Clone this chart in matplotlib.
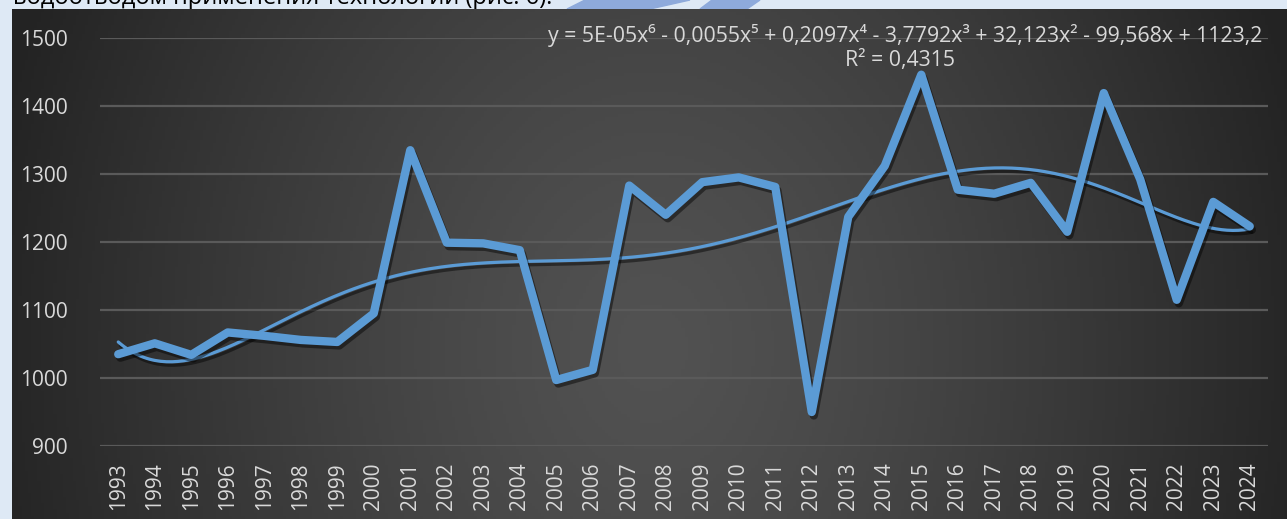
import numpy as np
import matplotlib.pyplot as plt
import matplotlib.patheffects as pe
from matplotlib.patches import Polygon

# data
years = [str(y) for y in range(1993, 2025)]
values = [1035, 1051, 1034, 1067, 1062, 1056, 1053, 1095, 1335, 1199,
          1198, 1188, 997, 1012, 1283, 1240, 1288, 1295, 1281, 950,
          1237, 1312, 1446, 1277, 1271, 1287, 1215, 1419, 1292, 1115,
          1259, 1223]
yticks = [900, 1000, 1100, 1200, 1300, 1400, 1500]
equation = "y = 5E-05x\u2076 - 0,0055x\u2075 + 0,2097x\u2074 - 3,7792x\u00b3 + 32,123x\u00b2 - 99,568x + 1123,2"
r2_text = "R\u00b2 = 0,4315"
caption = "водоотводом применения технологий (рис. 6)."

W, H = 1287, 519
blue = '#5b9bd5'
txt = '#d9d9d9'
fonts = ['Open Sans', 'DejaVu Sans']
plt.rcParams['font.family'] = fonts

fig = plt.figure(figsize=(W / 100, H / 100), dpi=100)
fig.patch.set_facecolor('#dee9f5')

# page text and shape peeking above the chart
fig.text(13 / W, 1 - 4 / H, caption, fontsize=17, color='black',
         va='baseline', ha='left', zorder=-2)
shape_color = '#8eaadb'
fig.patches.append(Polygon([(567 / W, 1 - 9 / H), (585 / W, 1.0), (690 / W, 1.0), (650 / W, 1 - 9 / H)],
                           closed=True, transform=fig.transFigure, color=shape_color, zorder=-3))
fig.patches.append(Polygon([(700 / W, 1 - 9 / H), (712 / W, 1.0), (760 / W, 1.0), (747 / W, 1 - 9 / H)],
                           closed=True, transform=fig.transFigure, color=shape_color, zorder=-3))

# dark gradient chart area
bg = fig.add_axes([12 / W, 0, 1 - 12 / W, 1 - 9 / H], zorder=0)
gx, gy = np.meshgrid(np.linspace(0, 1275, 400), np.linspace(0, 510, 160))
d = np.sqrt(((gx - 640) / 680) ** 2 + ((gy - 340) / 850) ** 2)
d = np.clip(d, 0, 1) ** 1.3
c_in, c_out = 0x52, 0x23
g = (c_in + (c_out - c_in) * d) / 255
bg.imshow(np.dstack([g, g, g]), aspect='auto', extent=[0, 1, 0, 1])
bg.set_axis_off()

ax = fig.add_axes([100 / W, 73 / H, 1168 / W, 408 / H], zorder=1)
ax.set_facecolor('none')

x = np.arange(len(years))
shadow = [pe.SimpleLineShadow(offset=(1.5, -2.5), shadow_color='black', alpha=0.45), pe.Normal()]
ax.plot(x, values, color=blue, lw=6, solid_joinstyle='round', solid_capstyle='round',
        path_effects=shadow, zorder=3)

# polynomial trendline (order 6)
coef = np.polyfit(x + 1, values, 6)
xs = np.linspace(0, len(years) - 1, 400)
ax.plot(xs, np.polyval(coef, xs + 1), color=blue, lw=2.3, solid_capstyle='round',
        path_effects=shadow, zorder=2)

ax.set_xlim(-0.5, len(years) - 0.5)
ax.set_ylim(900, 1500)
ax.set_yticks(yticks)
ax.set_xticks(x)
ax.set_xticklabels(years, rotation=90)
ax.tick_params(axis='both', length=0, labelsize=15, colors=txt)
ax.tick_params(axis='y', pad=23)
ax.tick_params(axis='x', pad=12)
ax.grid(axis='y', color='#5a5a5a', lw=1.6)
ax.set_axisbelow(True)
for s in ax.spines.values():
    s.set_visible(False)

ax.text(0.995, 1.007, equation, transform=ax.transAxes, ha='right', va='center',
        fontsize=15.3, color=txt)
ax.text(0.685, 0.946, r2_text, transform=ax.transAxes, ha='center', va='center',
        fontsize=15.3, color=txt)

fig.savefig('out.png', dpi=100, facecolor=fig.get_facecolor())
